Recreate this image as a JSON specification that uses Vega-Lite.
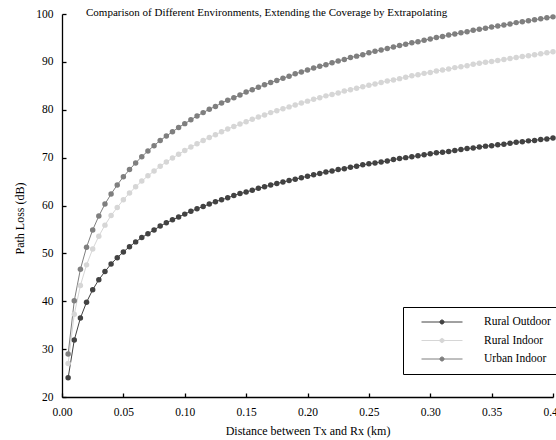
{
  "$schema": "https://vega.github.io/schema/vega-lite/v6.json",
  "width": 491,
  "height": 383,
  "autosize": {"type": "none"},
  "padding": {"left": 62, "top": 14, "right": 3, "bottom": 43},
  "background": "white",
  "config": {
    "view": {"stroke": null},
    "font": "Liberation Serif",
    "axis": {
      "grid": false,
      "domainColor": "black",
      "domainWidth": 1.3,
      "tickColor": "black",
      "tickWidth": 1.3,
      "tickSize": -4,
      "labelFont": "Liberation Serif",
      "labelFontSize": 11.5,
      "labelColor": "black",
      "titleFont": "Liberation Serif",
      "titleFontSize": 12,
      "titleFontWeight": "normal",
      "titleColor": "black"
    }
  },
  "title": {
    "text": "Comparison of Different Environments, Extending the Coverage by Extrapolating",
    "anchor": "start",
    "frame": "group",
    "dx": 24,
    "dy": 21,
    "offset": 0,
    "baseline": "bottom",
    "font": "Liberation Serif",
    "fontSize": 11,
    "fontWeight": "normal",
    "color": "black"
  },
  "data": {"values": [
    {"d":0.005,"Rural Outdoor":24.0,"Rural Indoor":27.0,"Urban Indoor":29.0},
    {"d":0.010,"Rural Outdoor":31.9,"Rural Indoor":37.3,"Urban Indoor":40.1},
    {"d":0.015,"Rural Outdoor":36.5,"Rural Indoor":43.3,"Urban Indoor":46.7},
    {"d":0.020,"Rural Outdoor":39.8,"Rural Indoor":47.6,"Urban Indoor":51.3},
    {"d":0.025,"Rural Outdoor":42.4,"Rural Indoor":50.9,"Urban Indoor":54.9},
    {"d":0.030,"Rural Outdoor":44.5,"Rural Indoor":53.6,"Urban Indoor":57.8},
    {"d":0.035,"Rural Outdoor":46.2,"Rural Indoor":55.9,"Urban Indoor":60.3},
    {"d":0.040,"Rural Outdoor":47.8,"Rural Indoor":57.9,"Urban Indoor":62.4},
    {"d":0.045,"Rural Outdoor":49.1,"Rural Indoor":59.6,"Urban Indoor":64.3},
    {"d":0.050,"Rural Outdoor":50.3,"Rural Indoor":61.2,"Urban Indoor":66.0},
    {"d":0.055,"Rural Outdoor":51.4,"Rural Indoor":62.6,"Urban Indoor":67.5},
    {"d":0.060,"Rural Outdoor":52.4,"Rural Indoor":63.9,"Urban Indoor":68.9},
    {"d":0.065,"Rural Outdoor":53.3,"Rural Indoor":65.1,"Urban Indoor":70.2},
    {"d":0.070,"Rural Outdoor":54.1,"Rural Indoor":66.2,"Urban Indoor":71.4},
    {"d":0.075,"Rural Outdoor":54.9,"Rural Indoor":67.2,"Urban Indoor":72.5},
    {"d":0.080,"Rural Outdoor":55.7,"Rural Indoor":68.2,"Urban Indoor":73.6},
    {"d":0.085,"Rural Outdoor":56.4,"Rural Indoor":69.1,"Urban Indoor":74.5},
    {"d":0.090,"Rural Outdoor":57.0,"Rural Indoor":69.9,"Urban Indoor":75.4},
    {"d":0.095,"Rural Outdoor":57.6,"Rural Indoor":70.7,"Urban Indoor":76.3},
    {"d":0.100,"Rural Outdoor":58.2,"Rural Indoor":71.5,"Urban Indoor":77.1},
    {"d":0.105,"Rural Outdoor":58.8,"Rural Indoor":72.2,"Urban Indoor":77.9},
    {"d":0.110,"Rural Outdoor":59.3,"Rural Indoor":72.9,"Urban Indoor":78.7},
    {"d":0.115,"Rural Outdoor":59.8,"Rural Indoor":73.6,"Urban Indoor":79.4},
    {"d":0.120,"Rural Outdoor":60.3,"Rural Indoor":74.2,"Urban Indoor":80.1},
    {"d":0.125,"Rural Outdoor":60.8,"Rural Indoor":74.8,"Urban Indoor":80.7},
    {"d":0.130,"Rural Outdoor":61.2,"Rural Indoor":75.4,"Urban Indoor":81.4},
    {"d":0.135,"Rural Outdoor":61.6,"Rural Indoor":76.0,"Urban Indoor":82.0},
    {"d":0.140,"Rural Outdoor":62.1,"Rural Indoor":76.5,"Urban Indoor":82.5},
    {"d":0.145,"Rural Outdoor":62.5,"Rural Indoor":77.0,"Urban Indoor":83.1},
    {"d":0.150,"Rural Outdoor":62.8,"Rural Indoor":77.5,"Urban Indoor":83.7},
    {"d":0.155,"Rural Outdoor":63.2,"Rural Indoor":78.0,"Urban Indoor":84.2},
    {"d":0.160,"Rural Outdoor":63.6,"Rural Indoor":78.5,"Urban Indoor":84.7},
    {"d":0.165,"Rural Outdoor":63.9,"Rural Indoor":78.9,"Urban Indoor":85.2},
    {"d":0.170,"Rural Outdoor":64.3,"Rural Indoor":79.4,"Urban Indoor":85.7},
    {"d":0.175,"Rural Outdoor":64.6,"Rural Indoor":79.8,"Urban Indoor":86.1},
    {"d":0.180,"Rural Outdoor":64.9,"Rural Indoor":80.2,"Urban Indoor":86.6},
    {"d":0.185,"Rural Outdoor":65.2,"Rural Indoor":80.6,"Urban Indoor":87.0},
    {"d":0.190,"Rural Outdoor":65.5,"Rural Indoor":81.0,"Urban Indoor":87.5},
    {"d":0.195,"Rural Outdoor":65.8,"Rural Indoor":81.4,"Urban Indoor":87.9},
    {"d":0.200,"Rural Outdoor":66.1,"Rural Indoor":81.8,"Urban Indoor":88.3},
    {"d":0.205,"Rural Outdoor":66.4,"Rural Indoor":82.2,"Urban Indoor":88.7},
    {"d":0.210,"Rural Outdoor":66.7,"Rural Indoor":82.5,"Urban Indoor":89.1},
    {"d":0.215,"Rural Outdoor":67.0,"Rural Indoor":82.9,"Urban Indoor":89.4},
    {"d":0.220,"Rural Outdoor":67.2,"Rural Indoor":83.2,"Urban Indoor":89.8},
    {"d":0.225,"Rural Outdoor":67.5,"Rural Indoor":83.5,"Urban Indoor":90.2},
    {"d":0.230,"Rural Outdoor":67.7,"Rural Indoor":83.9,"Urban Indoor":90.5},
    {"d":0.235,"Rural Outdoor":68.0,"Rural Indoor":84.2,"Urban Indoor":90.9},
    {"d":0.240,"Rural Outdoor":68.2,"Rural Indoor":84.5,"Urban Indoor":91.2},
    {"d":0.245,"Rural Outdoor":68.5,"Rural Indoor":84.8,"Urban Indoor":91.5},
    {"d":0.250,"Rural Outdoor":68.7,"Rural Indoor":85.1,"Urban Indoor":91.9},
    {"d":0.255,"Rural Outdoor":68.9,"Rural Indoor":85.4,"Urban Indoor":92.2},
    {"d":0.260,"Rural Outdoor":69.1,"Rural Indoor":85.7,"Urban Indoor":92.5},
    {"d":0.265,"Rural Outdoor":69.3,"Rural Indoor":86.0,"Urban Indoor":92.8},
    {"d":0.270,"Rural Outdoor":69.6,"Rural Indoor":86.2,"Urban Indoor":93.1},
    {"d":0.275,"Rural Outdoor":69.8,"Rural Indoor":86.5,"Urban Indoor":93.4},
    {"d":0.280,"Rural Outdoor":70.0,"Rural Indoor":86.8,"Urban Indoor":93.7},
    {"d":0.285,"Rural Outdoor":70.2,"Rural Indoor":87.1,"Urban Indoor":94.0},
    {"d":0.290,"Rural Outdoor":70.4,"Rural Indoor":87.3,"Urban Indoor":94.2},
    {"d":0.295,"Rural Outdoor":70.6,"Rural Indoor":87.6,"Urban Indoor":94.5},
    {"d":0.300,"Rural Outdoor":70.8,"Rural Indoor":87.8,"Urban Indoor":94.8},
    {"d":0.305,"Rural Outdoor":71.0,"Rural Indoor":88.1,"Urban Indoor":95.1},
    {"d":0.310,"Rural Outdoor":71.1,"Rural Indoor":88.3,"Urban Indoor":95.3},
    {"d":0.315,"Rural Outdoor":71.3,"Rural Indoor":88.5,"Urban Indoor":95.6},
    {"d":0.320,"Rural Outdoor":71.5,"Rural Indoor":88.8,"Urban Indoor":95.8},
    {"d":0.325,"Rural Outdoor":71.7,"Rural Indoor":89.0,"Urban Indoor":96.1},
    {"d":0.330,"Rural Outdoor":71.9,"Rural Indoor":89.2,"Urban Indoor":96.3},
    {"d":0.335,"Rural Outdoor":72.0,"Rural Indoor":89.5,"Urban Indoor":96.6},
    {"d":0.340,"Rural Outdoor":72.2,"Rural Indoor":89.7,"Urban Indoor":96.8},
    {"d":0.345,"Rural Outdoor":72.4,"Rural Indoor":89.9,"Urban Indoor":97.0},
    {"d":0.350,"Rural Outdoor":72.5,"Rural Indoor":90.1,"Urban Indoor":97.3},
    {"d":0.355,"Rural Outdoor":72.7,"Rural Indoor":90.3,"Urban Indoor":97.5},
    {"d":0.360,"Rural Outdoor":72.8,"Rural Indoor":90.5,"Urban Indoor":97.7},
    {"d":0.365,"Rural Outdoor":73.0,"Rural Indoor":90.7,"Urban Indoor":97.9},
    {"d":0.370,"Rural Outdoor":73.2,"Rural Indoor":90.9,"Urban Indoor":98.2},
    {"d":0.375,"Rural Outdoor":73.3,"Rural Indoor":91.1,"Urban Indoor":98.4},
    {"d":0.380,"Rural Outdoor":73.5,"Rural Indoor":91.3,"Urban Indoor":98.6},
    {"d":0.385,"Rural Outdoor":73.6,"Rural Indoor":91.5,"Urban Indoor":98.8},
    {"d":0.390,"Rural Outdoor":73.8,"Rural Indoor":91.7,"Urban Indoor":99.0},
    {"d":0.395,"Rural Outdoor":73.9,"Rural Indoor":91.9,"Urban Indoor":99.2},
    {"d":0.400,"Rural Outdoor":74.1,"Rural Indoor":92.1,"Urban Indoor":99.4}
  ]},
  "transform": [
    {"fold": ["Rural Outdoor", "Rural Indoor", "Urban Indoor"], "as": ["series", "pl"]}
  ],
  "mark": {
    "type": "line",
    "strokeWidth": 1,
    "clip": false,
    "point": {"filled": true, "size": 30, "opacity": 1}
  },
  "encoding": {
    "x": {
      "field": "d",
      "type": "quantitative",
      "scale": {"domain": [0, 0.4], "nice": false, "zero": false},
      "axis": {
        "title": "Distance between Tx and Rx (km)",
        "values": [0, 0.05, 0.1, 0.15, 0.2, 0.25, 0.3, 0.35, 0.4],
        "labelPadding": 13,
        "titlePadding": 8,
        "labelFlush": false
      }
    },
    "y": {
      "field": "pl",
      "type": "quantitative",
      "scale": {"domain": [20, 100], "nice": false, "zero": false},
      "axis": {
        "title": "Path Loss (dB)",
        "values": [20, 30, 40, 50, 60, 70, 80, 90, 100],
        "labelPadding": 13,
        "titlePadding": 9,
        "titleY": 204,
        "labelFlush": false
      }
    },
    "color": {
      "field": "series",
      "type": "nominal",
      "scale": {
        "domain": ["Rural Outdoor", "Rural Indoor", "Urban Indoor"],
        "range": ["#424242", "#d6d6d6", "#7f7f7f"]
      },
      "legend": {
        "title": null,
        "orient": "none",
        "legendX": 341,
        "legendY": 293,
        "direction": "vertical",
        "strokeColor": "black",
        "fillColor": "white",
        "padding": 6,
        "symbolType": "M-1,0L1,0M-0.1,0A0.1,0.1,0,1,0,0.1,0A0.1,0.1,0,1,0,-0.1,0",
        "symbolSize": 1681,
        "symbolStrokeWidth": 1,
        "symbolOffset": 12,
        "clipHeight": 18,
        "rowPadding": 0.5,
        "labelOffset": 21,
        "labelFont": "Liberation Serif",
        "labelFontSize": 11.5,
        "labelColor": "black",
        "labelLimit": 200,
        "encode": {
          "symbols": {
            "update": {
              "fill": {"scale": "color", "field": "value"},
              "stroke": {"scale": "color", "field": "value"},
              "opacity": {"value": 1},
              "fillOpacity": {"value": 1},
              "strokeOpacity": {"value": 1}
            }
          }
        }
      }
    }
  }
}
